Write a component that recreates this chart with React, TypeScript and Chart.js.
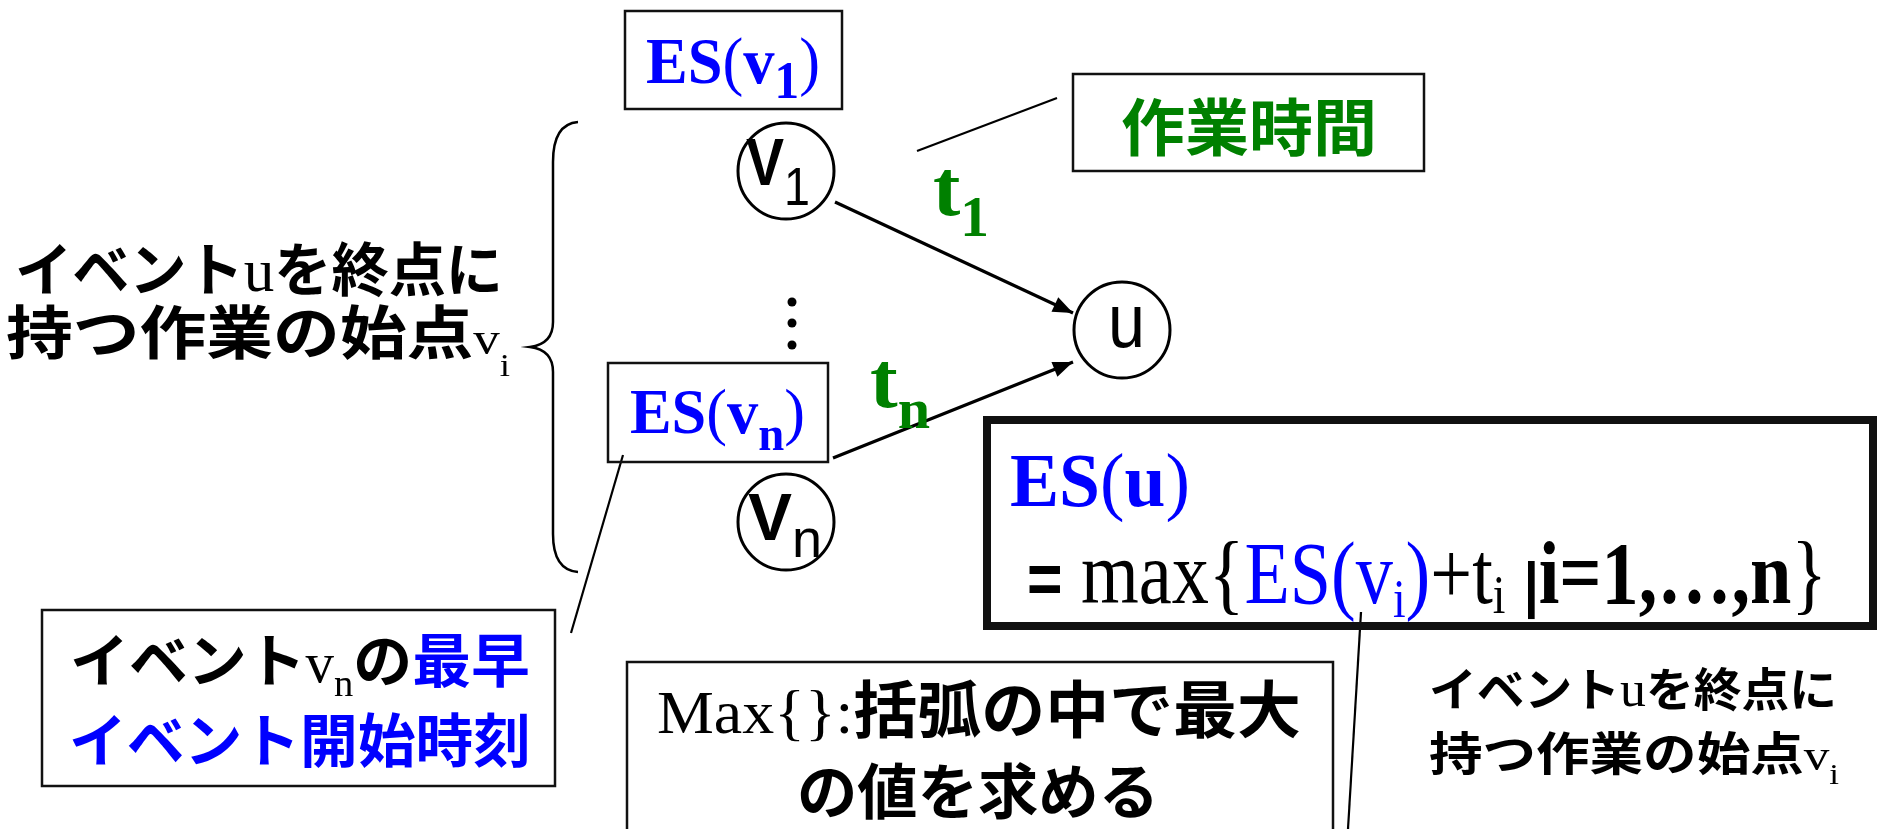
import React, { useEffect, useRef } from 'react';
import { Chart, registerables } from 'chart.js';
Chart.register(...registerables);

const W = 1878;
const H = 829;

// ---- diagram data ----
const nodeNames = ['v1', 'u', 'vn'];
const nodeX = [786, 1122, 786];
const nodeY = [171, 330, 522];

const edgeFromX = [835, 833];
const edgeFromY = [202, 458];
const edgeToX = [1073, 1073];
const edgeToY = [313, 362];

const leaderFromX = [917, 623, 1361];
const leaderFromY = [151, 455, 612];
const leaderToX = [1057, 571, 1348];
const leaderToY = [98, 633, 829];

const dotX = [792, 792, 792];
const dotY = [302, 323, 345];

const workTimeLabel = '作業時間';
const edgeLabels = ['1', 'n'];
const esLabels = ['1', 'n'];
const startLine1 = ['イベント', 'u', 'を終点に'];
const startLine2 = ['持つ作業の始点', 'v', 'i'];
const earliestLine1 = ['イベント', 'v', 'n', 'の', '最早'];
const earliestLine2 = 'イベント開始時刻';
const maxLine1 = ['Max{}:', '括弧の中で最大'];
const maxLine2 = 'の値を求める';

const BLUE = '#0000ff';
const GREEN = '#008000';
const BLACK = '#000000';
const SERIF = '"Liberation Serif", "Times New Roman", serif';
const SANS = '"Liberation Sans", Arial, sans-serif';
const JP = '"Noto Sans CJK JP", "Noto Sans CJK SC", sans-serif';

const f = (w: string, s: number, fam: string) => `${w} ${s}px ${fam}`;

type Run = { t: string; f: string; c: string; dy?: number };

function drawRuns(ctx: CanvasRenderingContext2D, runs: Run[], x: number, y: number, width: number, align: 'left' | 'center' = 'left') {
  ctx.save();
  ctx.textBaseline = 'alphabetic';
  ctx.textAlign = 'left';
  let total = 0;
  const ws = runs.map((r) => {
    ctx.font = r.f;
    const w = ctx.measureText(r.t).width;
    total += w;
    return w;
  });
  const s = width / total;
  const x0 = align === 'center' ? x - width / 2 : x;
  ctx.translate(x0, y);
  ctx.scale(s, 1);
  let cx = 0;
  runs.forEach((r, i) => {
    ctx.font = r.f;
    ctx.fillStyle = r.c;
    ctx.fillText(r.t, cx, r.dy || 0);
    cx += ws[i];
  });
  ctx.restore();
}

const diagramPlugin = {
  id: 'diagram',
  afterDatasetsDraw(chart: any) {
    const ctx: CanvasRenderingContext2D = chart.ctx;
    const sx = chart.scales.x;
    const sy = chart.scales.y;
    const X = (v: number) => sx.getPixelForValue(v);
    const Y = (v: number) => sy.getPixelForValue(v);

    // arrow heads
    for (let i = 0; i < edgeToX.length; i++) {
      const x1 = X(edgeFromX[i]), y1 = Y(edgeFromY[i]);
      const x2 = X(edgeToX[i]), y2 = Y(edgeToY[i]);
      const a = Math.atan2(y2 - y1, x2 - x1);
      const L = 20, hw = 8;
      ctx.save();
      ctx.fillStyle = BLACK;
      ctx.beginPath();
      ctx.moveTo(x2, y2);
      ctx.lineTo(x2 - L * Math.cos(a) + hw * Math.sin(a), y2 - L * Math.sin(a) - hw * Math.cos(a));
      ctx.lineTo(x2 - L * Math.cos(a) - hw * Math.sin(a), y2 - L * Math.sin(a) + hw * Math.cos(a));
      ctx.closePath();
      ctx.fill();
      ctx.restore();
    }

    // boxes
    const box = (x1: number, y1: number, x2: number, y2: number, lw: number) => {
      ctx.save();
      ctx.strokeStyle = '#111';
      ctx.lineWidth = lw;
      ctx.strokeRect(X(x1), Y(y1), X(x2) - X(x1), Y(y2) - Y(y1));
      ctx.restore();
    };
    box(625, 11, 842, 109, 2.5);
    box(608, 363, 828, 462, 2.5);
    box(1073, 74, 1424, 171, 2.5);
    box(42, 610, 555, 786, 2.5);
    box(627, 662, 1333, 860, 2.5);
    box(987, 420, 1873, 626, 8);

    // brace
    ctx.save();
    ctx.strokeStyle = BLACK;
    ctx.lineWidth = 2.5;
    ctx.beginPath();
    ctx.moveTo(X(578), Y(122));
    ctx.quadraticCurveTo(X(553), Y(124), X(553), Y(162));
    ctx.lineTo(X(553), Y(322));
    ctx.quadraticCurveTo(X(553), Y(344), X(530), Y(347));
    ctx.quadraticCurveTo(X(553), Y(350), X(553), Y(372));
    ctx.lineTo(X(553), Y(534));
    ctx.quadraticCurveTo(X(553), Y(570), X(578), Y(572));
    ctx.stroke();
    ctx.restore();

    // node labels
    drawRuns(ctx, [
      { t: 'V', f: f('bold', 66, SANS), c: BLACK },
      { t: '1', f: f('normal', 54, SANS), c: BLACK, dy: 20 },
    ], X(746), Y(185), 64);
    drawRuns(ctx, [
      { t: 'u', f: f('normal', 76, SANS), c: BLACK },
    ], X(1108), Y(347), 37);
    drawRuns(ctx, [
      { t: 'V', f: f('bold', 66, SANS), c: BLACK },
      { t: 'n', f: f('normal', 54, SANS), c: BLACK, dy: 17 },
    ], X(748), Y(540), 74);

    // ES labels
    drawRuns(ctx, [
      { t: 'ES', f: f('bold', 66, SERIF), c: BLUE },
      { t: '(', f: f('normal', 66, SERIF), c: BLUE },
      { t: 'v', f: f('bold', 66, SERIF), c: BLUE },
      { t: esLabels[0], f: f('bold', 52, SERIF), c: BLUE, dy: 15 },
      { t: ')', f: f('normal', 66, SERIF), c: BLUE },
    ], X(646), Y(83), 174);
    drawRuns(ctx, [
      { t: 'ES', f: f('bold', 64, SERIF), c: BLUE },
      { t: '(', f: f('normal', 64, SERIF), c: BLUE },
      { t: 'v', f: f('bold', 64, SERIF), c: BLUE },
      { t: esLabels[1], f: f('bold', 48, SERIF), c: BLUE, dy: 17 },
      { t: ')', f: f('normal', 64, SERIF), c: BLUE },
    ], X(630), Y(433), 175);

    // edge labels t1, tn
    drawRuns(ctx, [
      { t: 't', f: f('bold', 80, SERIF), c: GREEN },
      { t: edgeLabels[0], f: f('bold', 56, SERIF), c: GREEN, dy: 21 },
    ], X(933), Y(215), 56);
    drawRuns(ctx, [
      { t: 't', f: f('bold', 80, SERIF), c: GREEN },
      { t: edgeLabels[1], f: f('bold', 56, SERIF), c: GREEN, dy: 21 },
    ], X(870), Y(407), 60);

    // 作業時間
    drawRuns(ctx, [{ t: workTimeLabel, f: f('bold', 62, JP), c: GREEN }], X(1249), Y(151), 256, 'center');

    // left description
    drawRuns(ctx, [
      { t: startLine1[0], f: f('bold', 58, JP), c: BLACK },
      { t: startLine1[1], f: f('normal', 62, SERIF), c: BLACK },
      { t: startLine1[2], f: f('bold', 58, JP), c: BLACK },
    ], X(15), Y(291), 488);
    drawRuns(ctx, [
      { t: startLine2[0], f: f('bold', 58, JP), c: BLACK },
      { t: startLine2[1], f: f('normal', 46, SERIF), c: BLACK },
      { t: startLine2[2], f: f('normal', 32, SERIF), c: BLACK, dy: 22 },
    ], X(6), Y(354), 504);

    // earliest event start time box
    drawRuns(ctx, [
      { t: earliestLine1[0], f: f('bold', 58, JP), c: BLACK },
      { t: earliestLine1[1], f: f('normal', 56, SERIF), c: BLACK },
      { t: earliestLine1[2], f: f('normal', 38, SERIF), c: BLACK, dy: 14 },
      { t: earliestLine1[3], f: f('bold', 58, JP), c: BLACK },
      { t: earliestLine1[4], f: f('bold', 58, JP), c: BLUE },
    ], X(300), Y(682), 460, 'center');
    drawRuns(ctx, [
      { t: earliestLine2, f: f('bold', 58, JP), c: BLUE },
    ], X(300), Y(762), 462, 'center');

    // Max box
    drawRuns(ctx, [
      { t: maxLine1[0], f: f('normal', 62, SERIF), c: BLACK },
      { t: maxLine1[1], f: f('bold', 62, JP), c: BLACK },
    ], X(657), Y(733), 644);
    drawRuns(ctx, [
      { t: maxLine2, f: f('bold', 60, JP), c: BLACK },
    ], X(978), Y(814), 362, 'center');

    // formula box
    drawRuns(ctx, [
      { t: 'ES', f: f('bold', 77, SERIF), c: BLUE },
      { t: '(', f: f('normal', 77, SERIF), c: BLUE },
      { t: 'u', f: f('bold', 77, SERIF), c: BLUE },
      { t: ')', f: f('normal', 77, SERIF), c: BLUE },
    ], X(1010), Y(506), 180);
    drawRuns(ctx, [
      { t: '=', f: f('bold', 72, SANS), c: BLACK },
      { t: ' max{', f: f('normal', 88, SERIF), c: BLACK },
      { t: 'ES(v', f: f('normal', 88, SERIF), c: BLUE },
      { t: 'i', f: f('normal', 54, SERIF), c: BLUE, dy: 14 },
      { t: ')', f: f('normal', 88, SERIF), c: BLUE },
      { t: '+t', f: f('normal', 88, SERIF), c: BLACK },
      { t: 'i', f: f('normal', 54, SERIF), c: BLACK, dy: 10 },
      { t: ' ', f: f('normal', 88, SERIF), c: BLACK },
      { t: '|', f: f('bold', 62, SANS), c: BLACK, dy: 2 },
      { t: 'i=1,…,n', f: f('bold', 88, SERIF), c: BLACK },
      { t: '}', f: f('normal', 88, SERIF), c: BLACK },
    ], X(1027), Y(603), 800);

    // right description
    drawRuns(ctx, [
      { t: startLine1[0], f: f('bold', 46, JP), c: BLACK },
      { t: startLine1[1], f: f('normal', 50, SERIF), c: BLACK },
      { t: startLine1[2], f: f('bold', 46, JP), c: BLACK },
    ], X(1429), Y(706), 408);
    drawRuns(ctx, [
      { t: startLine2[0], f: f('bold', 46, JP), c: BLACK },
      { t: startLine2[1], f: f('normal', 44, SERIF), c: BLACK },
      { t: startLine2[2], f: f('normal', 30, SERIF), c: BLACK, dy: 14 },
    ], X(1429), Y(770), 410);
  },
};

export default function App() {
  const ref = useRef<HTMLCanvasElement | null>(null);
  useEffect(() => {
    document.body.style.margin = '0';
    const canvas = ref.current;
    if (!canvas) return;
    const edgeSets = edgeFromX.map((_, i) => ({
      label: 'edge' + i,
      data: [
        { x: edgeFromX[i], y: edgeFromY[i] },
        { x: edgeToX[i], y: edgeToY[i] },
      ],
      showLine: true,
      borderColor: BLACK,
      borderWidth: 3.2,
      pointRadius: 0,
      order: 2,
    }));
    const leaderSets = leaderFromX.map((_, i) => ({
      label: 'leader' + i,
      data: [
        { x: leaderFromX[i], y: leaderFromY[i] },
        { x: leaderToX[i], y: leaderToY[i] },
      ],
      showLine: true,
      borderColor: BLACK,
      borderWidth: 2.2,
      pointRadius: 0,
      order: 3,
    }));
    const chart = new Chart(canvas, {
      type: 'scatter',
      data: {
        datasets: [
          {
            label: 'nodes',
            data: nodeNames.map((n, i) => ({ x: nodeX[i], y: nodeY[i] })),
            pointRadius: 48,
            pointStyle: 'circle',
            pointBackgroundColor: '#ffffff',
            pointBorderColor: BLACK,
            pointBorderWidth: 3,
            order: 0,
          },
          {
            label: 'dots',
            data: dotX.map((x, i) => ({ x, y: dotY[i] })),
            pointRadius: 4.5,
            pointBackgroundColor: BLACK,
            pointBorderColor: BLACK,
            pointBorderWidth: 0,
            order: 1,
          },
          ...edgeSets,
          ...leaderSets,
        ] as any,
      },
      options: {
        animation: false,
        responsive: false,
        events: [],
        layout: { padding: 0, autoPadding: false },
        plugins: { legend: { display: false }, tooltip: { enabled: false } },
        scales: {
          x: { type: 'linear', min: 0, max: W, display: false },
          y: { type: 'linear', min: 0, max: H, reverse: true, display: false },
        },
      },
      plugins: [diagramPlugin],
    });
    return () => chart.destroy();
  }, []);
  return (
    <div style={{ width: W, height: H, background: '#fff' }}>
      <canvas ref={ref} width={W} height={H} style={{ display: 'block' }} />
    </div>
  );
}
